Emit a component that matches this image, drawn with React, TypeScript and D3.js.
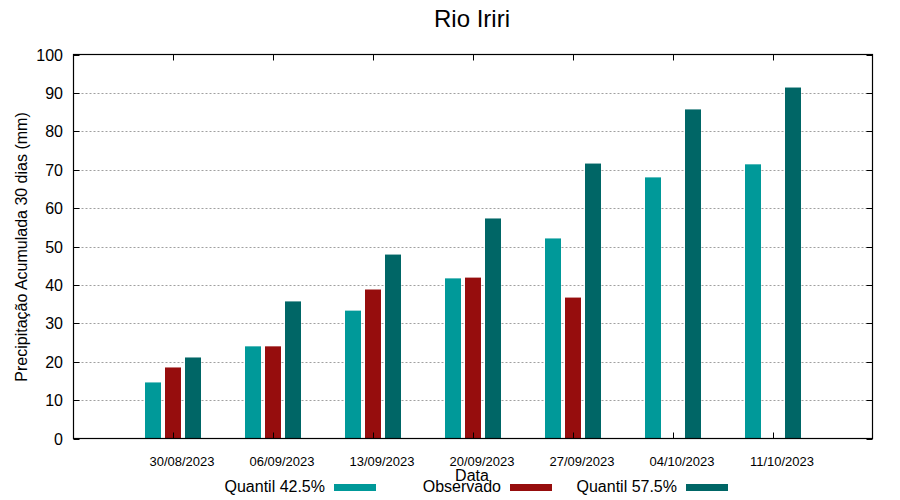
import React from "react";
import * as d3 from "d3";

const title = "Rio Iriri";
const categories = ["30/08/2023", "06/09/2023", "13/09/2023", "20/09/2023", "27/09/2023", "04/10/2023", "11/10/2023"];
const seriesNames = ["Quantil 42.5%", "Observado", "Quantil 57.5%"];
const q425: (number | null)[] = [14.6, 24.0, 33.3, 41.7, 52.1, 68.0, 71.4];
const observado: (number | null)[] = [18.5, 24.0, 38.8, 41.9, 36.7, null, null];
const q575: (number | null)[] = [21.1, 35.7, 47.9, 57.3, 71.6, 85.7, 91.4];
const yTicks = [0, 10, 20, 30, 40, 50, 60, 70, 80, 90, 100];
const colors = ["#009999", "#960d0d", "#006666"];
const yLabel = "Precipitação Acumulada 30 dias (mm)";
const xLabel = "Data";

export default function App() {
  const W = 900, H = 500;
  const left = 73.5, right = 872.5, top = 54.5, bottom = 438.5;
  const x = d3.scaleLinear().domain([-1, 7]).range([left - 0.5, right + 0.5]);
  const y = d3.scaleLinear().domain([0, 100]).range([bottom, top]);
  const series = [q425, observado, q575];
  const barW = 16, step = 20;
  const font = "'Liberation Sans', Arial, sans-serif";

  return (
    <svg width={W} height={H} style={{ position: "absolute", left: 0, top: 0, background: "#fff" }} fontFamily={font}>
      <rect x={0} y={0} width={W} height={H} fill="#fff" />
      <text x={472} y={27} fontSize={24} textAnchor="middle" fill="#000">{title}</text>
      {yTicks.filter(t => t > 0 && t < 100).map(t => (
        <line key={"g" + t} x1={left} x2={right} y1={Math.round(y(t)) + 0.5} y2={Math.round(y(t)) + 0.5}
          stroke="#a0a0a0" strokeWidth={1} strokeDasharray="2,2" />
      ))}
      {series.map((s, si) =>
        s.map((v, i) => v == null ? null : (
          <rect key={si + "-" + i}
            x={x(i) + (si - 1) * step - barW / 2}
            y={y(v)}
            width={barW}
            height={bottom - y(v)}
            fill={colors[si]} />
        ))
      )}
      {yTicks.map(t => (
        <g key={"t" + t}>
          <line x1={left} x2={left + 6} y1={Math.round(y(t)) + 0.5} y2={Math.round(y(t)) + 0.5} stroke="#000" />
          <line x1={right - 6} x2={right} y1={Math.round(y(t)) + 0.5} y2={Math.round(y(t)) + 0.5} stroke="#000" />
          <text x={63} y={y(t) + 6} fontSize={16} textAnchor="end" fill="#000">{t}</text>
        </g>
      ))}
      {categories.map((c, i) => (
        <g key={c}>
          <line x1={Math.round(x(i)) + 0.5} x2={Math.round(x(i)) + 0.5} y1={bottom} y2={bottom - 6} stroke="#000" />
          <line x1={Math.round(x(i)) + 0.5} x2={Math.round(x(i)) + 0.5} y1={top} y2={top + 6} stroke="#000" />
          <text x={x(i) + 9} y={466} fontSize={13} textAnchor="middle" fill="#000">{c}</text>
        </g>
      ))}
      <rect x={left} y={top} width={right - left} height={bottom - top} fill="none" stroke="#000" strokeWidth={1.2} />
      <text x={472} y={481} fontSize={16} textAnchor="middle" fill="#000">{xLabel}</text>
      <text transform={`translate(27,247) rotate(-90)`} fontSize={16} textAnchor="middle" fill="#000">{yLabel}</text>
      {seriesNames.map((n, i) => (
        <g key={n}>
          <text x={325 + i * 176} y={492} fontSize={16} textAnchor="end" fill="#000">{n}</text>
          <rect x={334 + i * 176} y={484} width={42} height={7} fill={colors[i]} />
        </g>
      ))}
    </svg>
  );
}
